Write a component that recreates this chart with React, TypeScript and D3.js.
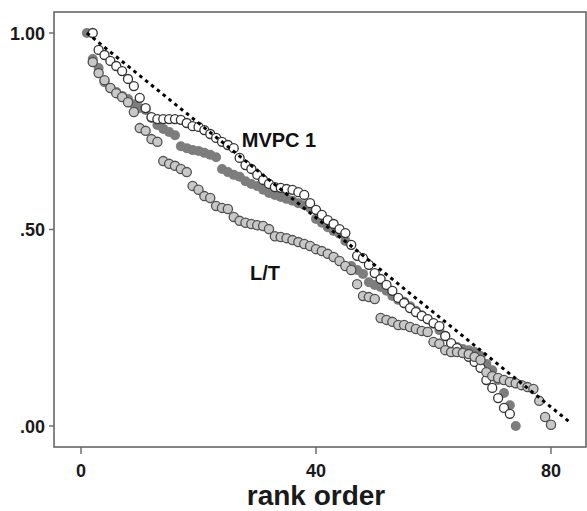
import React from 'react';
import { scaleLinear } from 'd3';

// rank order plot: three series + dashed reference diagonal
const xTicks = [0, 40, 80];
const yTicks = [0, 0.5, 1];
const yTickLabels = ['.00', '.50', '1.00'];

// MVPC 1 (open circles), ranks start at 2
const openStart = 2;
const openValues = [1.0, 0.957, 0.944, 0.929, 0.916, 0.903, 0.883, 0.865, 0.835, 0.809, 0.786, 0.781, 0.781, 0.781, 0.781, 0.779, 0.771, 0.763, 0.761, 0.753, 0.743, 0.733, 0.723, 0.715, 0.707, 0.682, 0.664, 0.654, 0.639, 0.626, 0.616, 0.608, 0.606, 0.603, 0.601, 0.595, 0.588, 0.567, 0.55, 0.537, 0.524, 0.514, 0.501, 0.491, 0.461, 0.433, 0.427, 0.41, 0.389, 0.374, 0.359, 0.344, 0.326, 0.313, 0.3, 0.29, 0.28, 0.272, 0.262, 0.254, 0.229, 0.211, 0.198, 0.186, 0.176, 0.163, 0.148, 0.117, 0.097, 0.071, 0.046, 0.031];

// dark grey filled series, ranks start at 1
const darkStart = 1;
const darkValues = [1.0, 0.934, 0.911, 0.875, 0.86, 0.85, 0.84, 0.832, 0.819, 0.809, 0.804, 0.784, 0.766, 0.756, 0.748, 0.74, 0.712, 0.707, 0.702, 0.7, 0.695, 0.69, 0.684, 0.654, 0.646, 0.639, 0.634, 0.623, 0.616, 0.611, 0.601, 0.593, 0.588, 0.583, 0.578, 0.573, 0.567, 0.562, 0.555, 0.527, 0.517, 0.506, 0.496, 0.489, 0.471, 0.407, 0.397, 0.387, 0.366, 0.359, 0.354, 0.344, 0.331, 0.321, 0.316, 0.305, 0.293, 0.282, 0.272, 0.26, 0.244, 0.229, 0.206, 0.201, 0.196, 0.193, 0.188, 0.178, 0.158, 0.142, 0.117, 0.084, 0.053, 0.0];

// L/T (light grey circles), ranks start at 2
const ltStart = 2;
const ltValues = [0.926, 0.898, 0.88, 0.86, 0.847, 0.837, 0.824, 0.799, 0.758, 0.751, 0.73, 0.723, 0.674, 0.667, 0.662, 0.654, 0.646, 0.611, 0.601, 0.585, 0.58, 0.56, 0.555, 0.552, 0.532, 0.522, 0.517, 0.514, 0.511, 0.509, 0.501, 0.483, 0.481, 0.478, 0.473, 0.468, 0.463, 0.458, 0.45, 0.445, 0.438, 0.43, 0.42, 0.407, 0.397, 0.361, 0.331, 0.328, 0.323, 0.275, 0.27, 0.265, 0.257, 0.257, 0.252, 0.247, 0.242, 0.239, 0.214, 0.209, 0.193, 0.188, 0.188, 0.186, 0.183, 0.176, 0.168, 0.137, 0.127, 0.122, 0.117, 0.112, 0.109, 0.104, 0.099, 0.094, 0.064, 0.023, 0.003];

// reference diagonal end points
const refRanks = [1, 83];
const refValues = [1.0, 0.012];

const W = 587;
const H = 511;
const box = { left: 54, top: 12, right: 586, bottom: 447 };
const font = '"Liberation Sans", Arial, sans-serif';

export default function App() {
  const x = scaleLinear().domain([0, 80]).range([81, 551]);
  const y = scaleLinear().domain([0, 1]).range([426, 33]);

  return (
    <svg width={W} height={H} style={{ position: 'absolute', left: 0, top: 0, background: '#fff' }}>
      <rect x={0} y={0} width={W} height={H} fill="#fff" />
      {/* frame */}
      <rect x={box.left} y={box.top} width={box.right - box.left} height={box.bottom - box.top}
        fill="none" stroke="#666" strokeWidth={1.6} />

      {/* y axis ticks */}
      {yTicks.map((t, i) => (
        <g key={'y' + t}>
          <line x1={box.left - 5} x2={box.left} y1={y(t)} y2={y(t)} stroke="#666" strokeWidth={1.4} />
          <text x={45} y={y(t) + 6.5} textAnchor="end" fontFamily={font} fontWeight="bold"
            fontSize={18} fill="#1a1a1a">{yTickLabels[i]}</text>
        </g>
      ))}

      {/* x axis ticks */}
      {xTicks.map(t => (
        <g key={'x' + t}>
          <line x1={x(t)} x2={x(t)} y1={box.bottom} y2={box.bottom + 7} stroke="#666" strokeWidth={1.4} />
          <text x={x(t)} y={477} textAnchor="middle" fontFamily={font} fontWeight="bold"
            fontSize={18} fill="#1a1a1a">{t}</text>
        </g>
      ))}
      <text x={316} y={505} textAnchor="middle" fontFamily={font} fontWeight="bold"
        fontSize={28} fill="#1a1a1a">rank order</text>

      {/* dark grey series */}
      {darkValues.map((v, i) => (
        <circle key={'d' + i} cx={x(darkStart + i)} cy={y(v)} r={5} fill="#7d7d7d" />
      ))}
      {/* MVPC 1 open circles */}
      {openValues.map((v, i) => (
        <circle key={'o' + i} cx={x(openStart + i)} cy={y(v)} r={4.5} fill="#fff" stroke="#333" strokeWidth={1.3} />
      ))}
      {/* L/T light grey circles */}
      {ltValues.map((v, i) => (
        <circle key={'l' + i} cx={x(ltStart + i)} cy={y(v)} r={4.6} fill="#c8c8c8" stroke="#505050" strokeWidth={1.3} />
      ))}

      {/* reference diagonal */}
      <line x1={x(refRanks[0])} y1={y(refValues[0])} x2={x(refRanks[1])} y2={y(refValues[1])}
        stroke="#000" strokeWidth={3} strokeDasharray="3.5 4" />

      <text x={279} y={147} textAnchor="middle" fontFamily={font} fontWeight="bold"
        fontSize={20} fill="#111">MVPC 1</text>
      <text x={265} y={280} textAnchor="middle" fontFamily={font} fontWeight="bold"
        fontSize={20} fill="#111">L/T</text>
    </svg>
  );
}
